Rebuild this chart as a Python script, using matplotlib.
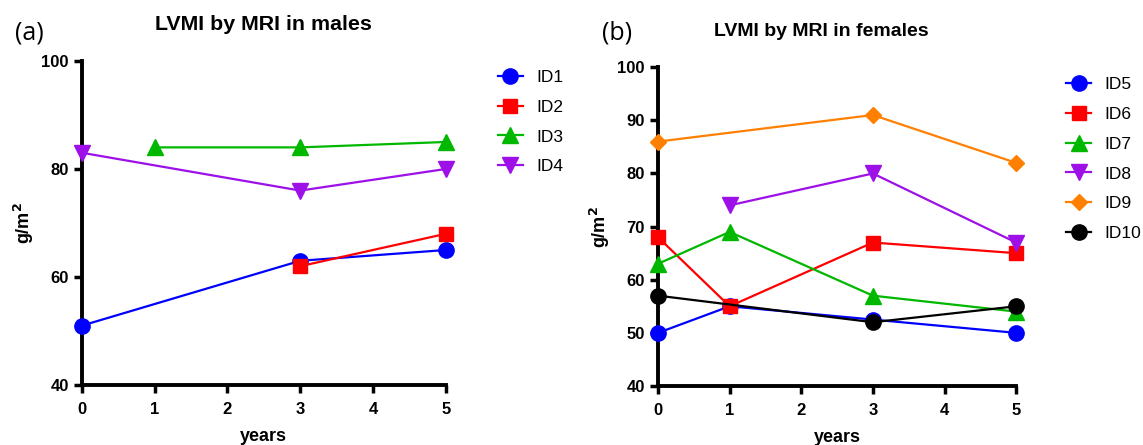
import numpy as np
import matplotlib.pyplot as plt

plt.rcParams['font.family'] = ['Liberation Sans', 'DejaVu Sans']

# males (a)
male_ids = ["ID1", "ID2", "ID3", "ID4"]
male_x = [[0, 3, 5], [3, 5], [1, 3, 5], [0, 3, 5]]
male_y = [[51, 63, 65], [62, 68], [84, 84, 85], [83, 76, 80]]

# females (b)
female_ids = ["ID5", "ID6", "ID7", "ID8", "ID9", "ID10"]
female_x = [[0, 1, 3, 5], [0, 1, 3, 5], [0, 1, 3, 5], [1, 3, 5], [0, 3, 5], [0, 3, 5]]
female_y = [[50, 55, 52.5, 50], [68, 55, 67, 65], [63, 69, 57, 54],
            [74, 80, 67], [86, 91, 82], [57, 52, 55]]

styles = {
    "ID1": ("#0000FF", "o"), "ID2": ("#FF0000", "s"), "ID3": ("#00B800", "^"),
    "ID4": ("#9E10E8", "v"), "ID5": ("#0000FF", "o"), "ID6": ("#FF0000", "s"),
    "ID7": ("#00B800", "^"), "ID8": ("#9E10E8", "v"), "ID9": ("#FF8000", "D"),
    "ID10": ("#000000", "o"),
}
msize = {"o": 11, "s": 10.5, "^": 11, "v": 11, "D": 8.5}

fig = plt.figure(figsize=(11.43, 4.45), dpi=100)
ax1 = fig.add_axes([0.0717, 0.1348, 0.3183, 0.7282])
ax2 = fig.add_axes([0.5757, 0.1326, 0.3133, 0.7164])


def draw(ax, ids, xs, ys, yticks, leg_x, leg_y):
    for name, x, y in zip(ids, xs, ys):
        c, m = styles[name]
        ax.plot(x, y, color=c, marker=m, markersize=msize[m], lw=1.6,
                label=name, clip_on=False, zorder=3)
    ax.set_xlim(0, 5)
    ax.set_ylim(40, 100)
    ax.set_xticks([0, 1, 2, 3, 4, 5])
    ax.set_yticks(yticks)
    for s in ["top", "right"]:
        ax.spines[s].set_visible(False)
    for s in ["left", "bottom"]:
        ax.spines[s].set_linewidth(2.8)
    ax.tick_params(width=2.5, length=6, labelsize=12)
    ax.tick_params(axis="x", pad=6)
    for lab in ax.get_xticklabels() + ax.get_yticklabels():
        lab.set_fontweight("bold")
    ax.set_xlabel("years", fontsize=13, fontweight="bold", labelpad=8)
    ax.set_ylabel("g/m$^\\mathbf{2}$", fontsize=13, fontweight="bold")
    ax.legend(loc="upper left", bbox_to_anchor=(leg_x, leg_y), frameon=False,
              fontsize=12.5, labelspacing=0.85, handlelength=1.45,
              handletextpad=0.75, borderaxespad=0)


draw(ax1, male_ids, male_x, male_y, [40, 60, 80, 100], 1.124, 0.995)
draw(ax2, female_ids, female_x, female_y, [40, 50, 60, 70, 80, 90, 100], 1.12, 0.992)

# titles placed by hand (the right one sits a bit left of its axes centre)
fig.text(0.2305, 0.946, "LVMI by MRI in males", fontsize=15.4,
         fontweight="bold", ha="center", va="center")
fig.text(0.7183, 0.930, "LVMI by MRI in females", fontsize=14,
         fontweight="bold", ha="center", va="center")

fig.text(0.013, 0.912, "(a)", fontsize=18, family="Open Sans")
fig.text(0.527, 0.912, "(b)", fontsize=18, family="Open Sans")

fig.savefig("out.png", dpi=100)
